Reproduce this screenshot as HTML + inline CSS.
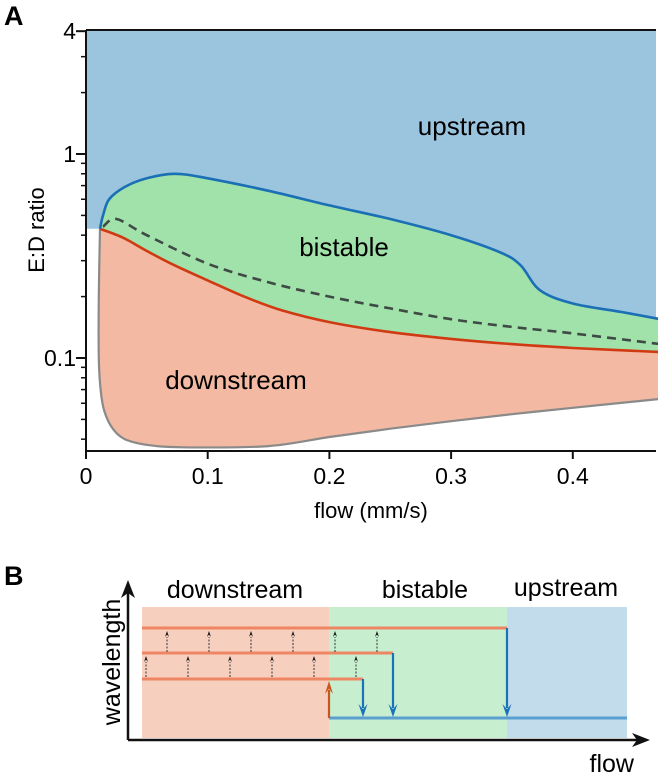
<!DOCTYPE html>
<html><head><meta charset="utf-8"><style>
html,body{margin:0;padding:0;background:#fff;}
svg{display:block;font-family:"Liberation Sans",Arial,sans-serif;}
</style></head><body>
<svg id="fig" width="658" height="775" viewBox="0 0 658 775">
<text x="4" y="25" font-size="27" font-weight="bold">A</text>
<g id="plotA"></g>
<text x="4" y="585" font-size="27" font-weight="bold">B</text>
<g id="plotB"></g>
</svg>
<script>
// ---- Panel A data ----
const xTicks=[0,0.1,0.2,0.3,0.4];
const xTickLabels=["0","0.1","0.2","0.3","0.4"];
const yTicks=[0.1,1,4];
const yTickLabels=["0.1","1","4"];
const blueX=[0.0115,0.014,0.019,0.032,0.05,0.073,0.1,0.15,0.2,0.25,0.3,0.34,0.357,0.373,0.4,0.44,0.472];
const blueY=[0.43,0.5,0.6,0.69,0.76,0.8,0.76,0.66,0.56,0.48,0.4,0.33,0.285,0.215,0.185,0.168,0.155];
const redX=[0.0115,0.03,0.048,0.07,0.1,0.13,0.16,0.2,0.25,0.3,0.35,0.4,0.472];
const redY=[0.43,0.39,0.34,0.29,0.24,0.2,0.172,0.15,0.134,0.124,0.117,0.112,0.107];
const dashX=[0.014,0.025,0.05,0.1,0.15,0.2,0.25,0.3,0.35,0.4,0.472];
const dashY=[0.44,0.48,0.4,0.29,0.235,0.2,0.175,0.155,0.142,0.132,0.117];
const grayX=[0.0115,0.0105,0.0105,0.012,0.015,0.022,0.032,0.05,0.08,0.15,0.2,0.25,0.3,0.35,0.4,0.472];
const grayY=[0.43,0.2,0.1,0.07,0.055,0.045,0.04,0.0375,0.0365,0.037,0.041,0.045,0.049,0.053,0.057,0.063];

const NS="http://www.w3.org/2000/svg";
const L=86,R=656,T=30,B=451;
const sx=v=>L+v*1217;
const sy=v=>154-204*Math.log10(v);
function mk(parent,tag,attrs){const e=document.createElementNS(NS,tag);for(const k in attrs)e.setAttribute(k,attrs[k]);parent.appendChild(e);return e;}
function pts(xs,ys){return xs.map((x,i)=>[sx(x),sy(ys[i])]);}
function smooth(p,move){let d=(move?"M":"L")+p[0][0].toFixed(1)+","+p[0][1].toFixed(1);
 for(let i=0;i<p.length-1;i++){const p0=p[Math.max(0,i-1)],p1=p[i],p2=p[i+1],p3=p[Math.min(p.length-1,i+2)];
  const c1=[p1[0]+(p2[0]-p0[0])/6,p1[1]+(p2[1]-p0[1])/6],c2=[p2[0]-(p3[0]-p1[0])/6,p2[1]-(p3[1]-p1[1])/6];
  d+="C"+c1.map(v=>v.toFixed(1))+" "+c2.map(v=>v.toFixed(1))+" "+p2.map(v=>v.toFixed(1));}
 return d;}
const A=document.getElementById('plotA');
const bp=pts(blueX,blueY),rp=pts(redX,redY),gp=pts(grayX,grayY),dp=pts(dashX,dashY);
let e;
e=mk(A,'rect',{x:L,y:T,width:R-L,height:B-T,fill:'#9bc4de'});


e=mk(A,'path',{d:smooth(bp,true)+`L${R},${B}L${L},${B}L${L},${sy(0.43)}Z`,fill:'#fff'});


e=mk(A,'path',{d:smooth(bp,true)+smooth(rp.slice().reverse(),false)+'Z',fill:'#a0e2aa'});


e=mk(A,'path',{d:smooth(rp,true)+smooth(gp.slice().reverse(),false)+'Z',fill:'#f3b9a2'});


e=mk(A,'path',{d:smooth(gp,true),fill:'none',stroke:'#8a8a8a','stroke-width':2.2});


e=mk(A,'path',{d:smooth(dp,true),fill:'none',stroke:'#3f4a45','stroke-width':2.6,'stroke-dasharray':'9,6'});


e=mk(A,'path',{d:smooth(rp,true),fill:'none',stroke:'#d03a12','stroke-width':2.6});


e=mk(A,'path',{d:smooth(bp,true),fill:'none',stroke:'#1a6fb5','stroke-width':2.6});


// axes
e=mk(A,'path',{d:`M${L},${T}L${L},${B}L${R},${B}M${L},${T}L${R},${T}`,fill:'none',stroke:'#111','stroke-width':2});


xTicks.forEach((v,i)=>{
 const t=mk(A,'line',{x1:sx(v),x2:sx(v),y1:B,y2:B+8,stroke:'#111','stroke-width':2});
 
 
 const l=mk(A,'text',{x:sx(v),y:B+33,'font-size':23,'text-anchor':'middle'});l.textContent=xTickLabels[i];
 
 
});
const minor=[0.04,0.05,0.06,0.07,0.08,0.09,0.2,0.3,0.4,0.5,0.6,0.7,0.8,0.9,2,3];
minor.forEach(v=>{const t=mk(A,'line',{x1:L-5,x2:L,y1:sy(v),y2:sy(v),stroke:'#111','stroke-width':1.5});
 
 });
yTicks.forEach((v,i)=>{
 const t=mk(A,'line',{x1:L-10,x2:L,y1:sy(v),y2:sy(v),stroke:'#111','stroke-width':2});
 
 
 const l=mk(A,'text',{x:L-10,y:sy(v)+8,'font-size':23,'text-anchor':'end'});l.textContent=yTickLabels[i];
 
 
});
function txt(p,x,y,s,str,name,extra){const t=mk(p,'text',Object.assign({x:x,y:y,'font-size':s},extra||{}));t.textContent=str;
 
 return t;}
txt(A,371,518,22,'flow (mm/s)','x-axis-title',{'text-anchor':'middle'});
txt(A,0,0,22,'E:D ratio','y-axis-title',{'text-anchor':'middle',transform:'translate(44,230) rotate(-90)'});
txt(A,472,135,26,'upstream','upstream-label',{'text-anchor':'middle'});
txt(A,344,256,26,'bistable','bistable-label',{'text-anchor':'middle'});
txt(A,236,389,26,'downstream','downstream-label',{'text-anchor':'middle'});

// ---- Panel B ----
const Bp=document.getElementById('plotB');
function rect(x,y,w,h,f,n){const r=mk(Bp,'rect',{x:x,y:y,width:w,height:h,fill:f});
 
 }
rect(142,607,187,131,'#f7cfbf','downstream-zone');
rect(329,607,178,131,'#c6eecf','bistable-zone');
rect(507,607,120,131,'#c2dcec','upstream-zone');
function line(x1,y1,x2,y2,c,w,n,dash){const l=mk(Bp,'line',{x1:x1,y1:y1,x2:x2,y2:y2,stroke:c,'stroke-width':w});
 if(dash)l.setAttribute('stroke-dasharray',dash);
 
 return l;}
function head(x,y,dir,c,w,h,n){const d=dir>0?`M${x},${y}L${x-w},${y-h}L${x},${y-h*0.6}L${x+w},${y-h}Z`:`M${x},${y}L${x-w},${y+h}L${x},${y+h*0.6}L${x+w},${y+h}Z`;
 const p=mk(Bp,'path',{d:d,fill:c});
 
 }
line(142,628,507,628,'#ee8663',3,'orange-line-top');
line(142,653,393,653,'#ee8663',3,'orange-line-mid');
line(142,679,363,679,'#ee8663',3,'orange-line-low');
line(329,718,627,718,'#5a9fd0',3,'blue-line');
[146,188,230,272,314,356].forEach(x=>{line(x,677,x,662,'#333',1,'dotted-arrow','2,1.5');head(x,656,-1,'#111',2,6,'dotted-arrow-head');});
[167,209,251,293,335,377].forEach(x=>{line(x,652,x,637,'#333',1,'dotted-arrow','2,1.5');head(x,631,-1,'#111',2,6,'dotted-arrow-head');});
[[363,679],[393,653],[507,628]].forEach(a=>{line(a[0],a[1],a[0],708,'#1a72b8',2.2,'drop-arrow');head(a[0],717,1,'#1a72b8',4.5,13,'drop-arrow-head');});
line(329,718,329,690,'#c9561c',2.2,'rise-arrow');head(329,681,-1,'#c9561c',4,13,'rise-arrow-head');
line(128,740,640,740,'#111',2.5,'x-axis-b');
const xa=mk(Bp,'path',{d:'M650,740L632,733L637,740L632,747Z',fill:'#111'});


line(128,740,128,592,'#111',2.5,'y-axis-b');
const ya=mk(Bp,'path',{d:'M128,580L121,598L128,593L135,598Z',fill:'#111'});


txt(Bp,235,598,25,'downstream','b-downstream-label',{'text-anchor':'middle'});
txt(Bp,425,598,25,'bistable','b-bistable-label',{'text-anchor':'middle'});
txt(Bp,566,596,25,'upstream','b-upstream-label',{'text-anchor':'middle'});
txt(Bp,634,772,25,'flow','b-x-axis-title',{'text-anchor':'end'});
txt(Bp,0,0,25,'wavelength','b-y-axis-title',{'text-anchor':'middle',transform:'translate(120,662) rotate(-90)'});
</script>
</body></html>
